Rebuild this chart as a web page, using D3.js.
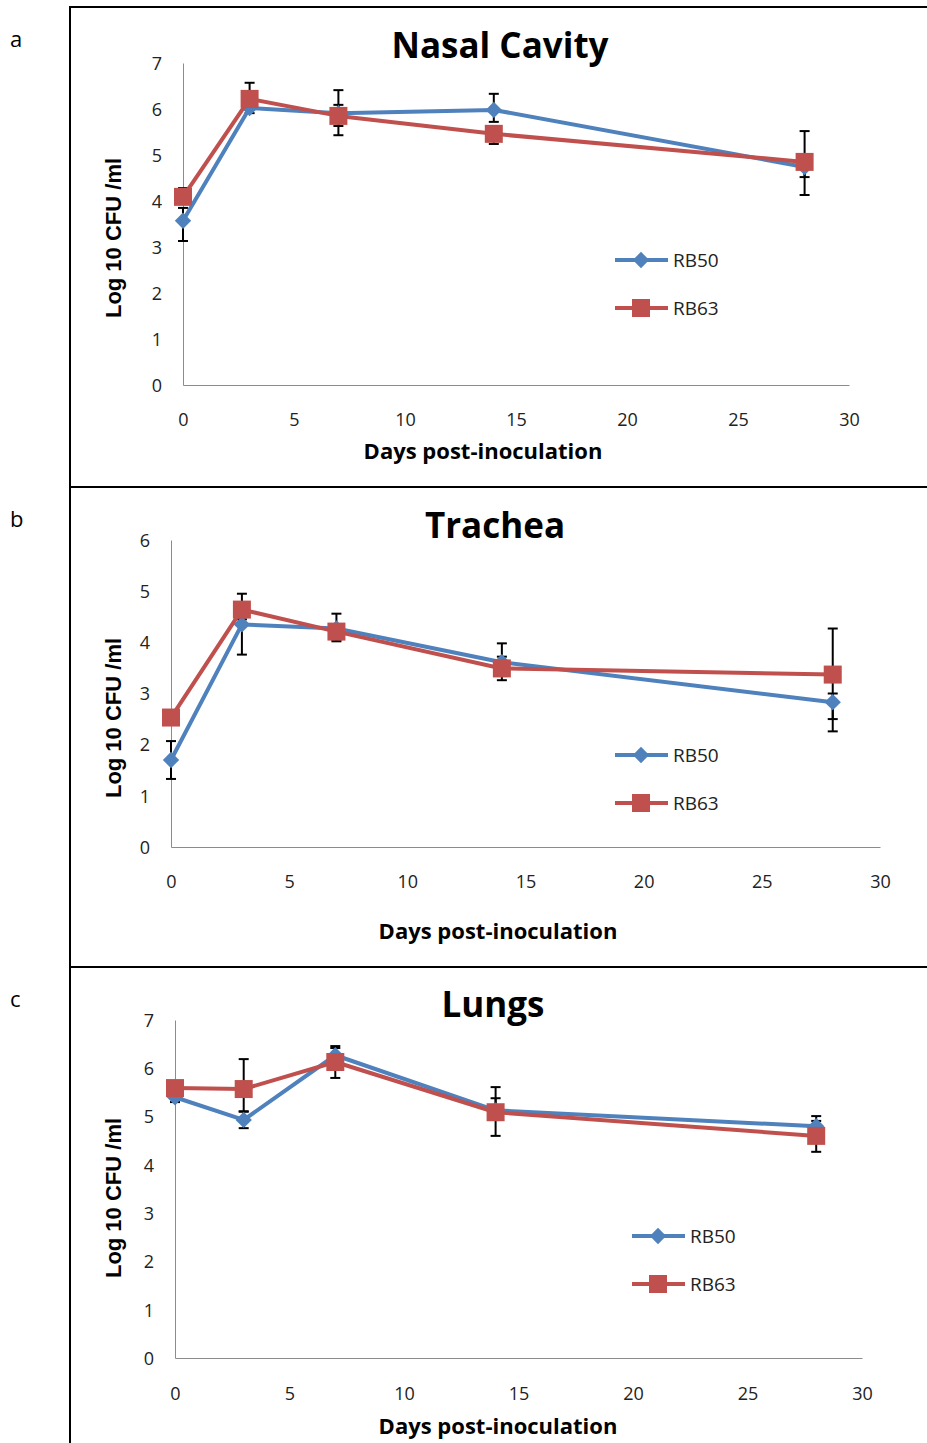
<!DOCTYPE html>
<html>
<head>
<meta charset="utf-8">
<script src="https://cdn.jsdelivr.net/npm/d3@7"></script>
<style>
body { margin: 0; background: #fff; }
text { font-family: "Open Sans", sans-serif; }
</style>
</head>
<body>
<div id="chart"></div>
<script>
chart_width = 927;
chart_height = 1443;

// sampling days
days = [0, 3, 7, 14, 28];
series_names = ['RB50', 'RB63'];
panel_titles = ['Nasal Cavity', 'Trachea', 'Lungs'];
panel_letters = ['a', 'b', 'c'];
y_max = [7, 6, 7];
x_ticks = [0, 5, 10, 15, 20, 25, 30];

// mean log10 CFU/ml
nasal_rb50 = [3.57, 6.02, 5.91, 5.98, 4.74];
nasal_rb63 = [4.09, 6.22, 5.85, 5.46, 4.85];
trachea_rb50 = [1.70, 4.35, 4.27, 3.61, 2.83];
trachea_rb63 = [2.53, 4.64, 4.21, 3.49, 3.37];
lungs_rb50 = [5.40, 4.93, 6.27, 5.13, 4.80];
lungs_rb63 = [5.59, 5.57, 6.13, 5.09, 4.60];

// error bar ends [low, high]
nasal_rb50_err = [[3.13, 3.85], [5.91, 6.10], [5.63, 6.41], [5.72, 6.33], [4.13, 4.90]];
nasal_rb63_err = [[3.95, 4.28], [6.05, 6.57], [5.43, 6.09], [5.24, 5.60], [4.52, 5.52]];
trachea_rb50_err = [[1.33, 2.07], [3.76, 4.50], [4.05, 4.56], [3.45, 3.98], [2.26, 3.00]];
trachea_rb63_err = [[2.40, 2.66], [4.45, 4.95], [4.02, 4.35], [3.26, 3.72], [2.50, 4.27]];
lungs_rb50_err = [[5.30, 5.50], [4.76, 5.10], [6.10, 6.46], [4.95, 5.61], [4.70, 5.01]];
lungs_rb63_err = [[5.45, 5.70], [5.11, 6.19], [5.80, 6.42], [4.60, 5.38], [4.27, 4.91]];

colors = ['#4F81BD', '#C0504D'];

panels = [
	{top: 7, x0: 183, x1: 849, y0: 385, y1: 63, tickY: 420, xtX: 483, xtY: 450, ytY: 238, titleX: 500, titleY: 44, legX: 615, legY: 260,
	 values: [nasal_rb50, nasal_rb63], errs: [nasal_rb50_err, nasal_rb63_err]},
	{top: 487, x0: 171, x1: 880, y0: 847, y1: 540, tickY: 882, xtX: 498, xtY: 930, ytY: 718, titleX: 495, titleY: 524, legX: 615, legY: 755,
	 values: [trachea_rb50, trachea_rb63], errs: [trachea_rb50_err, trachea_rb63_err]},
	{top: 967, x0: 175, x1: 862, y0: 1358, y1: 1020, tickY: 1394, xtX: 498, xtY: 1425, ytY: 1198, titleX: 493, titleY: 1003, legX: 632, legY: 1236,
	 values: [lungs_rb50, lungs_rb63], errs: [lungs_rb50_err, lungs_rb63_err]}
];

svg = d3.select('#chart')
	.append('svg')
	.attr('width', chart_width)
	.attr('height', chart_height);

// frame lines
svg.append('line')
	.attr('x1', 70).attr('x2', 70).attr('y1', 6).attr('y2', chart_height)
	.attr('stroke', '#000').attr('stroke-width', 2);

function drawMarker(g, i, x, y) {
	if (i === 0) {
		g.append('path')
			.attr('d', d3.symbol(d3.symbolDiamond2, 170)())
			.attr('transform', 'translate(' + x + ',' + y + ')')
			.attr('fill', colors[0]);
	} else {
		g.append('rect')
			.attr('x', x - 9).attr('y', y - 9)
			.attr('width', 18).attr('height', 18)
			.attr('fill', colors[1]);
	}
}

panels.forEach(function(p, k) {
	g = svg.append('g');

	g.append('line')
		.attr('x1', 70).attr('x2', chart_width).attr('y1', p.top).attr('y2', p.top)
		.attr('stroke', '#000').attr('stroke-width', 2);

	g.append('text')
		.attr('x', 10).attr('y', p.top + 31)
		.attr('dominant-baseline', 'central')
		.style('font-size', '22px')
		.text(panel_letters[k]);

	x_scale = d3.scaleLinear().domain([0, 30]).range([p.x0, p.x1]);
	y_scale = d3.scaleLinear().domain([0, y_max[k]]).range([p.y0, p.y1]);

	x_axis = g.append('g')
		.attr('transform', 'translate(0,' + p.y0 + ')')
		.call(d3.axisBottom(x_scale).tickValues(x_ticks).tickSize(0).tickPadding(p.tickY - p.y0 - 7));
	y_axis = g.append('g')
		.attr('transform', 'translate(' + p.x0 + ',0)')
		.call(d3.axisLeft(y_scale).ticks(y_max[k]).tickSize(0).tickPadding(21));
	[x_axis, y_axis].forEach(function(a) {
		a.select('.domain').attr('stroke', '#8c8c8c').attr('stroke-width', 1);
		a.selectAll('text')
			.style('font-family', '"Open Sans", sans-serif')
			.style('font-size', '18px')
			.attr('fill', '#222');
	});
	y_axis.selectAll('text').attr('dy', '0.35em');

	g.append('text')
		.attr('x', p.titleX).attr('y', p.titleY)
		.attr('text-anchor', 'middle').attr('dominant-baseline', 'central')
		.style('font-size', '35px').style('font-weight', 'bold')
		.text(panel_titles[k]);

	g.append('text')
		.attr('x', p.xtX).attr('y', p.xtY)
		.attr('text-anchor', 'middle').attr('dominant-baseline', 'central')
		.style('font-size', '22px').style('font-weight', 'bold')
		.text('Days post-inoculation');

	g.append('text')
		.attr('transform', 'translate(113,' + p.ytY + ') rotate(-90)')
		.attr('text-anchor', 'middle').attr('dominant-baseline', 'central')
		.style('font-family', '"Liberation Sans", sans-serif')
		.style('font-size', '22px').style('font-weight', 'bold')
		.text('Log 10 CFU /ml');

	line_gen = d3.line()
		.x((d, i) => x_scale(days[i]))
		.y((d) => y_scale(d));

	// error bars
	p.errs.forEach(function(errs) {
		errs.forEach(function(e, i) {
			x = x_scale(days[i]);
			g.append('line')
				.attr('x1', x).attr('x2', x)
				.attr('y1', y_scale(e[0])).attr('y2', y_scale(e[1]))
				.attr('stroke', '#000').attr('stroke-width', 2);
			e.forEach(function(v) {
				g.append('line')
					.attr('x1', x - 5).attr('x2', x + 5)
					.attr('y1', y_scale(v)).attr('y2', y_scale(v))
					.attr('stroke', '#000').attr('stroke-width', 2);
			});
		});
	});

	p.values.forEach(function(vals, s) {
		g.append('path')
			.datum(vals)
			.attr('d', line_gen)
			.attr('fill', 'none')
			.attr('stroke', colors[s])
			.attr('stroke-width', 4)
			.attr('stroke-linejoin', 'round');
		vals.forEach(function(v, i) {
			drawMarker(g, s, x_scale(days[i]), y_scale(v));
		});
	});

	// legend
	series_names.forEach(function(name, s) {
		ly = p.legY + s * 48;
		g.append('line')
			.attr('x1', p.legX).attr('x2', p.legX + 53)
			.attr('y1', ly).attr('y2', ly)
			.attr('stroke', colors[s]).attr('stroke-width', 4);
		drawMarker(g, s, p.legX + 26, ly);
		g.append('text')
			.attr('x', p.legX + 58).attr('y', ly)
			.attr('dominant-baseline', 'central')
			.style('font-size', '19px')
			.attr('fill', '#222')
			.text(name);
	});
});
</script>
</body>
</html>
